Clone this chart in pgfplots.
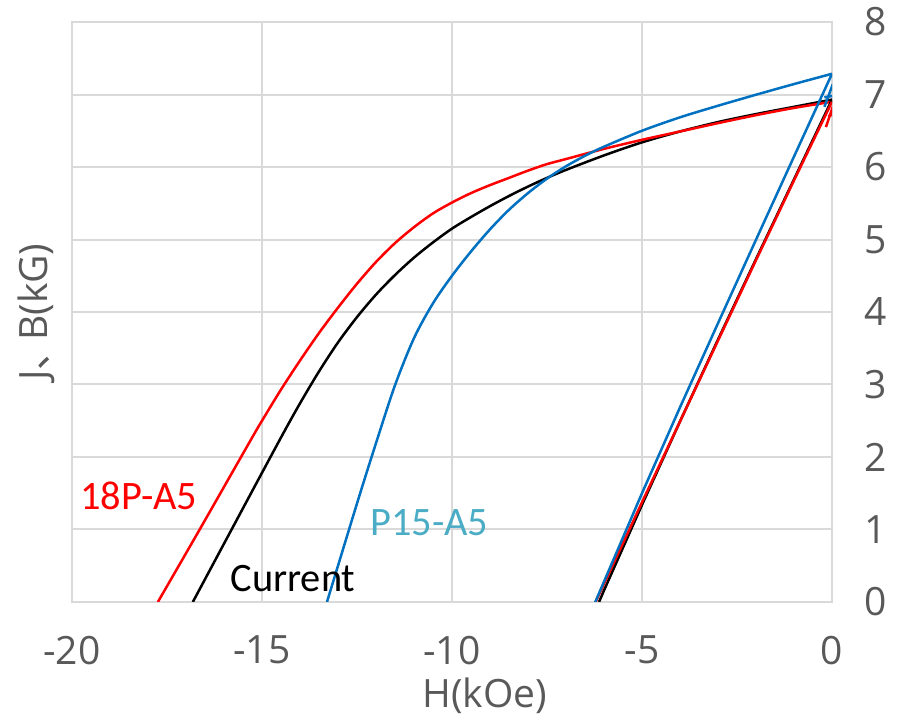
\documentclass[border=0pt]{standalone}
\usepackage{fontspec}
\setmainfont{Open Sans}
\newfontfamily\cjk{Noto Sans CJK JP}
\newfontfamily\calibri{Carlito}
\usepackage{pgfplots}
\pgfplotsset{compat=1.18}
\definecolor{tickgray}{HTML}{595959}
\definecolor{gridgray}{HTML}{D9D9D9}
\definecolor{xlblue}{HTML}{0070C0}
\definecolor{labblue}{HTML}{4BACC6}
\begin{document}
\begin{tikzpicture}
\begin{axis}[
  scale only axis, width=380pt, height=290pt,
  xmin=-20, xmax=0, ymin=0, ymax=8,
  xtick={-20,-15,-10,-5,0}, ytick={0,1,2,3,4,5,6,7,8},
  grid=major, major grid style={draw=gridgray, line width=1pt},
  axis line style={draw=gridgray, line width=1pt},
  tick style={draw=none},
  yticklabel pos=right,
  xticklabel={\pgfmathprintnumber[assume math mode=true]{\tick}},
  yticklabel={\pgfmathprintnumber[assume math mode=true]{\tick}},
  ticklabel style={font=\fontsize{19.5}{21}\selectfont, text=tickgray},
  x tick label style={yshift=-13.5pt},
  y tick label style={xshift=12.5pt},
  xlabel={H(kOe)}, ylabel={J{\cjk 、}\kern-0.25em B(kG)},
  every axis x label/.style={at={(axis cs:-9.14,0)}, anchor=base, yshift=-53pt, font=\fontsize{19.5}{21}\selectfont, text=tickgray},
  every axis y label/.style={at={(rel axis cs:-0.0316,0.5)}, rotate=90, anchor=base, font=\fontsize{19.5}{21}\selectfont, text=tickgray},
  every axis plot/.append style={line width=1.25pt},
]
\coordinate (sw) at (rel axis cs:0,0);
% Current J
\addplot[black, smooth, tension=0.5] coordinates {
(-16.82,0) (-15.8,1.0) (-14.53,2.24) (-14,2.74) (-13.5,3.18) (-13,3.58) (-12.5,3.93) (-12,4.24) (-11.5,4.51) (-11,4.75) (-10.5,4.96) (-10,5.15) (-9.5,5.31) (-9,5.46) (-8.5,5.60) (-8,5.73) (-7.5,5.85) (-7,5.96) (-6,6.16) (-5,6.34) (-4,6.49) (-3,6.62) (-2,6.73) (-1,6.83) (0,6.93)};
% 18P-A5 J
\addplot[red, smooth, tension=0.5] coordinates {
(-17.74,0) (-16.64,1.0) (-15.29,2.24) (-15,2.50) (-14.5,2.93) (-14,3.33) (-13.5,3.71) (-13,4.06) (-12.5,4.39) (-12,4.69) (-11.5,4.95) (-11,5.17) (-10.5,5.36) (-10,5.51) (-9.5,5.64) (-9,5.75) (-8.5,5.85) (-8,5.95) (-7.5,6.04) (-7,6.11) (-6,6.25) (-5,6.375) (-4,6.49) (-3,6.605) (-2,6.715) (-1,6.815) (0,6.9)};
% P15-A5 J
\addplot[xlblue, smooth, tension=0.5] coordinates {
(-13.29,0) (-12.47,1.41) (-11.97,2.24) (-11.5,2.99) (-11,3.64) (-10.5,4.12) (-10,4.50) (-9.5,4.835) (-9,5.14) (-8.5,5.41) (-8,5.64) (-7.5,5.84) (-7,6.01) (-6.5,6.155) (-6,6.28) (-5,6.50) (-4,6.685) (-3,6.845) (-2,6.997) (-1,7.144) (0,7.286)};
% B lines
\addplot[black] coordinates {
(-6.13,0) (-6,0.16) (-5,1.34) (-4,2.49) (-3,3.62) (-2,4.73) (-1,5.83) (0,6.93)};
\addplot[red] coordinates {
(-6.22,0) (-6,0.25) (-5,1.375) (-4,2.49) (-3,3.605) (-2,4.715) (-1,5.815) (0,6.9)};
\addplot[red] coordinates {(-0.16,6.55) (0.02,6.83)};
\addplot[red] coordinates {(-0.1,6.7) (0,6.72)};
\addplot[xlblue] coordinates {
(-6.23,0) (-6,0.28) (-5,1.50) (-4,2.685) (-3,3.845) (-2,4.997) (-1,6.144) (0,7.286)};
\addplot[xlblue] coordinates {(-0.2,6.83) (0.02,7.14)};
\addplot[xlblue] coordinates {(-0.2,6.96) (0,6.98)};
% labels
\node[anchor=base west, inner sep=0, text=red, font=\calibri\fontsize{20.2}{22}\selectfont] at (axis cs:-19.79,1.28) {18P-A5};
\node[anchor=base west, inner sep=0, text=black, font=\calibri\fontsize{20.2}{22}\selectfont] at (axis cs:-15.84,0.14) {Current};
\node[anchor=base west, inner sep=0, text=labblue, font=\calibri\fontsize{20.2}{22}\selectfont] at (axis cs:-12.16,0.92) {P15-A5};
\end{axis}
\pgfresetboundingbox
\path (sw) ++(-36pt,-56.5pt) rectangle ++(452.5pt,357.5pt);
\end{tikzpicture}
\end{document}
